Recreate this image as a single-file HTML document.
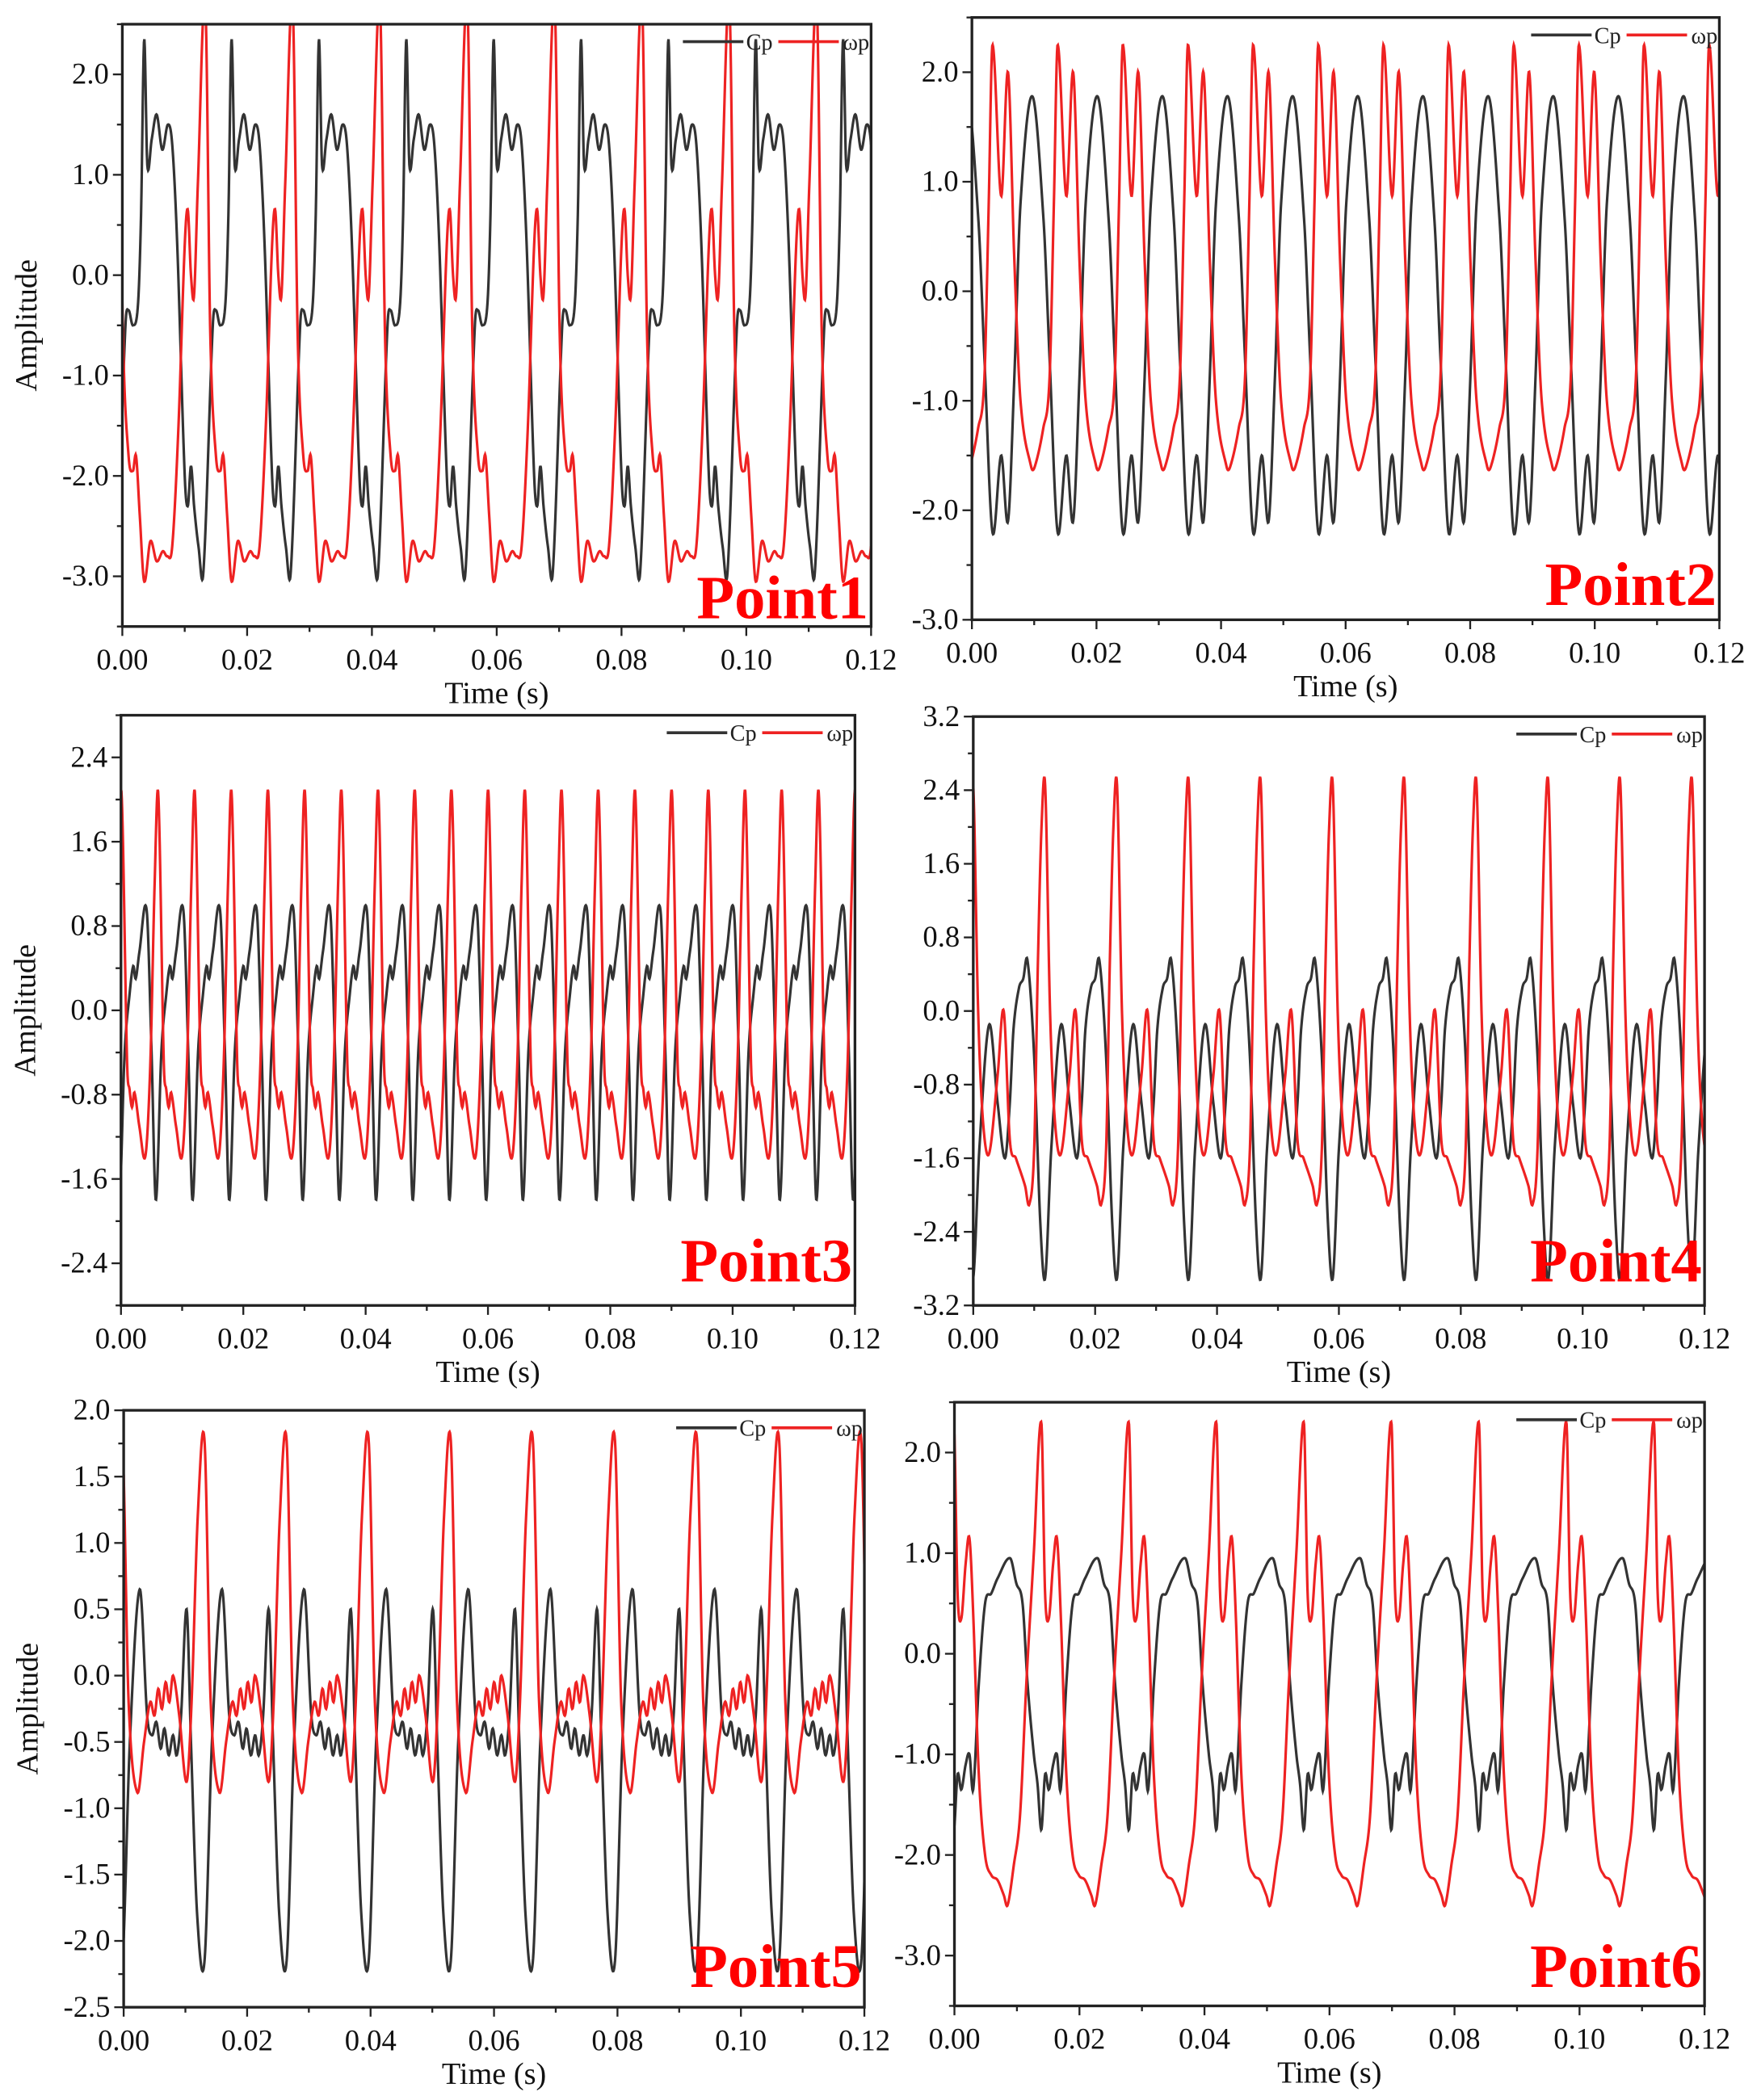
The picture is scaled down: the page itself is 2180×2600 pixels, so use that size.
<!DOCTYPE html>
<html><head><meta charset="utf-8"><style>
html,body{margin:0;padding:0;background:#fff}
svg{display:block}
</style></head><body>
<svg id="s" width="2180" height="2600" viewBox="0 0 1310 1562" preserveAspectRatio="none" xmlns="http://www.w3.org/2000/svg" font-family="'Liberation Serif', serif"></svg>
<script>
const S=document.getElementById('s');const NS='http://www.w3.org/2000/svg';
function el(t,a,txt){const e=document.createElementNS(NS,t);for(const k in a)e.setAttribute(k,a[k]);if(t==='text'){e.setAttribute('font-family',"Liberation Serif, serif");}if(txt!==undefined)e.textContent=txt;S.appendChild(e);return e;}
function interp(keys,T,t){
 let tm=((t%T)+T)%T;const n=keys.length;
 let ks=keys.slice().sort((a,b)=>a[0]-b[0]);
 let i=n-1;for(let j=0;j<n;j++){if(ks[j][0]<=tm)i=j;}
 const g=j=>{let jj=((j%n)+n)%n;let off=Math.floor(j/n)*T;return [ks[jj][0]+off,ks[jj][1]];};
 let base=(tm<ks[0][0])?-1:i;
 let p0=g(base-1),p1=g(base),p2=g(base+1),p3=g(base+2);
 let u=(tm-p1[0])/(p2[0]-p1[0]);
 let m1=(p2[1]-p0[1])/(p2[0]-p0[0])*(p2[0]-p1[0]);
 let m2=(p3[1]-p1[1])/(p3[0]-p1[0])*(p2[0]-p1[0]);
 let u2=u*u,u3=u2*u;
 return (2*u3-3*u2+1)*p1[1]+(u3-2*u2+u)*m1+(-2*u3+3*u2)*p2[1]+(u3-u2)*m2;
}
function panel(P){
 const {x0,x1,y0,y1,vmin,vmax}=P;
 const X=t=>x0+(x1-x0)*t/0.12, Y=v=>y0+(y1-y0)*(vmax-v)/(vmax-vmin);
 const id='c'+P.n;
 const cp=el('clipPath',{id:id});
 const r=document.createElementNS(NS,'rect');r.setAttribute('x',x0);r.setAttribute('y',y0);r.setAttribute('width',x1-x0);r.setAttribute('height',y1-y0);cp.appendChild(r);
 for(const [keys,T,off,col] of [[P.cp,P.T,P.off||0,'#333'],[P.wp,P.T,P.off||0,'#ee2222']]){
  let d='';const N=1800;
  for(let i=0;i<=N;i++){const t=0.12*i/N;const v=interp(keys,T,t-off);d+=(i?'L':'M')+X(t).toFixed(2)+' '+Y(v).toFixed(2);}
  el('path',{d:d,fill:'none',stroke:col,'stroke-width':1.9,'clip-path':'url(#'+id+')'});
 }
 el('rect',{x:x0,y:y0,width:x1-x0,height:y1-y0,fill:'none',stroke:'#222','stroke-width':2});
 for(let k=0;k<=12;k++){const x=X(k*0.01);const maj=k%2==0;
  el('line',{x1:x,y1:y1,x2:x,y2:y1+(maj?7:4),stroke:'#222','stroke-width':1.4});
  if(maj)el('text',{x:x,y:y1+32,'font-size':22,'text-anchor':'middle',fill:'#111'},(k*0.01).toFixed(2));}
 el('text',{x:(x0+x1)/2,y:y1+57,'font-size':23,'text-anchor':'middle',fill:'#111'},'Time (s)');
 const st=P.step;const mn=st/2;
 for(let v=Math.ceil(vmin/mn-1e-6)*mn;v<=vmax+1e-6;v+=mn){const y=Y(v);const maj=Math.abs(v/st-Math.round(v/st))<1e-6;
  el('line',{x1:x0,y1:y,x2:x0-(maj?7:4),y2:y,stroke:'#222','stroke-width':1.4});
  if(maj&&P.lab(v))el('text',{x:x0-10,y:y+7,'font-size':22,'text-anchor':'end',fill:'#111'},(Math.abs(v)<1e-9?0:v).toFixed(1));}
 if(P.amp)el('text',{x:0,y:0,'font-size':23,'text-anchor':'middle',fill:'#111',transform:'translate('+(x0-64)+','+((y0+y1)/2)+') rotate(-90)'},'Amplitude');
 const lx=x1-140,ly=y0+13;
 el('line',{x1:lx,y1:ly,x2:lx+45,y2:ly,stroke:'#333','stroke-width':2.2});
 el('text',{x:lx+47,y:ly+6,'font-size':17,fill:'#222'},'Cp');
 el('line',{x1:lx+71,y1:ly,x2:lx+116,y2:ly,stroke:'#ee2222','stroke-width':2.2});
 el('text',{x:lx+119,y:ly+6,'font-size':17,fill:'#222'},'ωp');
 el('text',{x:x1-2,y:P.py,'font-size':46,'font-weight':'bold','text-anchor':'end',fill:'#ff0000'},'Point'+P.n);
}
const all=v=>true;
panel({n:1,x0:91,x1:648,y0:18,y1:466,vmin:-3.5,vmax:2.5,step:1,amp:true,lab:v=>v>-3.4&&v<2.4,py:460,T:0.014,
 cp:[[0.0035,2.35],[0.0040,1.1],[0.0047,1.35],[0.0055,1.6],[0.0064,1.25],[0.0073,1.5],[0.0080,1.3],[0.0088,0.3],[0.0100,-2.0],[0.0105,-2.3],[0.0110,-1.9],[0.0115,-2.3],[0.0122,-2.7],[0.0130,-2.95],[0.0005,-0.5],[0.0010,-0.35],[0.0017,-0.5],[0.0025,-0.3],[0.0030,0.6]],
 wp:[[0.0035,-3.05],[0.0045,-2.65],[0.0055,-2.85],[0.0065,-2.75],[0.0072,-2.8],[0.0080,-2.7],[0.0090,-1.5],[0.0100,0.3],[0.0105,0.65],[0.0110,0.0],[0.0115,-0.2],[0.0121,0.9],[0.0133,2.7],[0.0001,-0.6],[0.0010,-1.8],[0.0017,-1.95],[0.0022,-1.8],[0.0028,-2.4]]});
panel({n:2,x0:723,x1:1279,y0:13,y1:461,vmin:-3,vmax:2.5,step:1,amp:false,lab:all,py:450,T:0.01046,
 cp:[[0.0033,-2.2],[0.0047,-1.5],[0.0058,-2.1],[0.0068,-0.8],[0.0078,0.8],[0.0097,1.78],[0.00104,0.65],[0.0020,-0.6]],
 wp:[[0.0033,2.25],[0.0047,0.87],[0.0058,2.0],[0.0068,0.3],[0.0078,-1.0],[0.0095,-1.6],[0.0101,-1.6],[0.0010,-1.25],[0.0020,-0.8],[0.0027,0.8]]});
panel({n:3,x0:90,x1:636,y0:532,y1:971,vmin:-2.8,vmax:2.8,step:0.8,amp:true,lab:all,py:953,T:0.006,
 cp:[[0.0014,0.15],[0.0020,0.42],[0.0024,0.3],[0.0030,0.55],[0.0042,0.95],[0.0050,-0.4],[0.0057,-1.8],[0.0006,-0.4]],
 wp:[[0.0001,2.05],[0.0010,-0.5],[0.0014,-0.75],[0.0018,-0.92],[0.0022,-0.78],[0.0030,-1.1],[0.0040,-1.38],[0.0048,-0.5],[0.0055,1.2]]});
panel({n:4,x0:724,x1:1268,y0:533,y1:971,vmin:-3.2,vmax:3.2,step:0.8,amp:false,lab:all,py:953,T:0.0118,
 cp:[[0,-2.9],[0.0010,-1.5],[0.0026,-0.15],[0.0040,-1.0],[0.0052,-1.6],[0.0060,-1.0],[0.0066,-0.2],[0.0075,0.25],[0.0082,0.35],[0.0089,0.55],[0.0100,-0.5],[0.0110,-2.3]],
 wp:[[0,2.45],[0.0008,0.0],[0.0016,-1.2],[0.0026,-1.55],[0.0040,-0.7],[0.0050,0.0],[0.0060,-1.4],[0.0070,-1.6],[0.0085,-1.9],[0.0092,-2.1],[0.0100,-1.5],[0.0106,0.5],[0.0112,2.0]]});
panel({n:5,x0:92,x1:643,y0:1049,y1:1493,vmin:-2.5,vmax:2.0,step:0.5,amp:true,lab:all,py:1478,T:0.0133,off:0.0131,
 cp:[[0,-2.15],[0.0012,-0.5],[0.0028,0.65],[0.0040,-0.3],[0.0048,-0.45],[0.0055,-0.35],[0.0062,-0.55],[0.0068,-0.4],[0.0075,-0.6],[0.0082,-0.45],[0.0088,-0.6],[0.0095,-0.3],[0.0104,0.5],[0.0111,-0.5],[0.0121,-1.8]],
 wp:[[0,1.77],[0.0010,-0.2],[0.0024,-0.88],[0.0035,-0.5],[0.0045,-0.2],[0.0052,-0.3],[0.0058,-0.1],[0.0064,-0.25],[0.0070,-0.05],[0.0076,-0.2],[0.0082,0.0],[0.0092,-0.3],[0.0104,-0.8],[0.0112,-0.2],[0.0122,1.2]]});
panel({n:6,x0:710,x1:1268,y0:1043,y1:1492,vmin:-3.5,vmax:2.5,step:1,amp:false,lab:v=>v>-3.4&&v<2.4,py:1478,T:0.014,off:0.0139,
 cp:[[0,-1.75],[0.0006,-1.2],[0.0012,-1.35],[0.0019,-1.1],[0.0025,-1.0],[0.0031,-1.35],[0.0040,-0.3],[0.0050,0.5],[0.0060,0.6],[0.0070,0.75],[0.0090,0.95],[0.0100,0.7],[0.0110,0.5],[0.0118,-0.3],[0.0128,-1.0],[0.0134,-1.3]],
 wp:[[0,2.3],[0.0006,0.6],[0.0012,0.35],[0.0019,0.9],[0.0025,1.15],[0.0031,0.4],[0.0040,-1.2],[0.0050,-2.0],[0.0060,-2.2],[0.0070,-2.25],[0.0080,-2.4],[0.0086,-2.5],[0.0096,-2.1],[0.0106,-1.6],[0.0116,-0.3],[0.0128,1.0]]});
</script>
</body></html>
